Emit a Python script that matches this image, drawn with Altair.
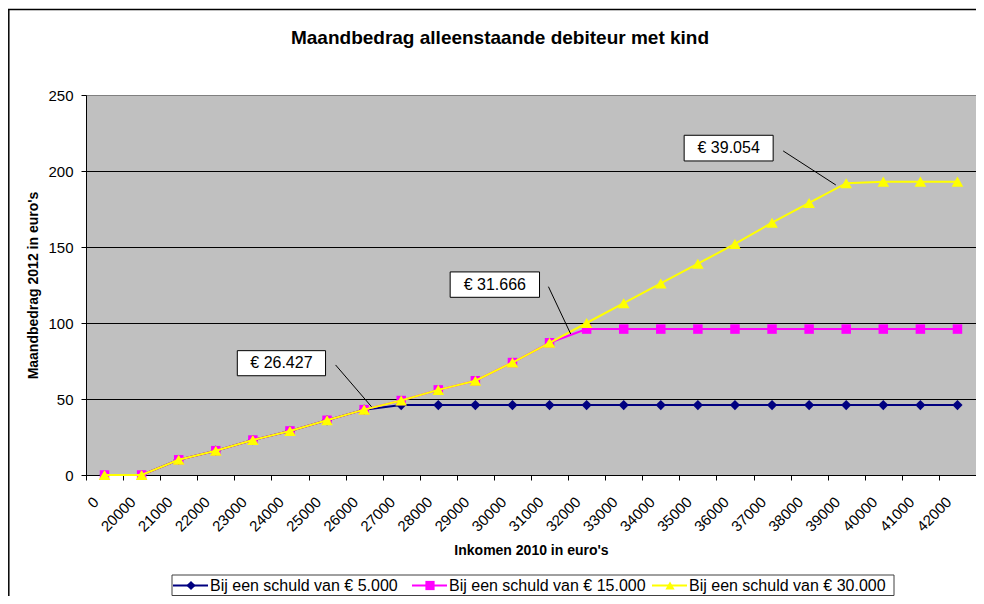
import json
import altair as alt
import pandas as pd

# ---------------- data ----------------
chart_title = "Maandbedrag alleenstaande debiteur met kind"
income_labels = ["0", "20000", "21000", "22000", "23000", "24000", "25000", "26000",
                 "27000", "28000", "29000", "30000", "31000", "32000", "33000", "34000",
                 "35000", "36000", "37000", "38000", "39000", "40000", "41000", "42000"]

series_names = ["Bij een schuld van € 5.000",
                "Bij een schuld van € 15.000",
                "Bij een schuld van € 30.000"]
series_colors = ["#000080", "#FF00FF", "#FFFF00"]
series_shapes = ["diamond", "square", "triangle-up"]
series_sizes = [105, 90, 135]

schuld_5000 = [0, 0, 10, 16, 23, 29, 36, 43, 46, 46, 46, 46, 46, 46, 46, 46,
               46, 46, 46, 46, 46, 46, 46, 46]
schuld_15000 = [0, 0, 10, 16, 23, 29, 36, 43, 49, 56, 62, 74, 87, 96, 96, 96,
                96, 96, 96, 96, 96, 96, 96, 96]
schuld_30000 = [0, 0, 10, 16, 23, 29, 36, 43, 49, 56, 62, 74, 87, 100, 113, 126,
                139, 152, 166, 179, 192, 193, 193, 193]

# annotations (positions in category-index / euro units)
ann_text = ["€ 26.427", "€ 31.666", "€ 39.054"]
ann_box_x1 = [3.58, 9.32, 15.63]
ann_box_x2 = [5.96, 11.73, 18.03]
ann_box_y1 = [65.3, 116.9, 206.6]
ann_box_y2 = [81.8, 133.6, 223.5]
ann_line_x1 = [6.23, 11.97, 18.30]
ann_line_y1 = [72.4, 123.9, 213.2]
ann_line_x2 = [7.20, 12.57, 19.72]
ann_line_y2 = [44.9, 92.8, 190.8]

# ---------------- layout ----------------
W, H = 890, 380
FONT = "Liberation Sans"
N = len(income_labels)
band = W / N
Y_MAX = 250
px_per_unit = H / Y_MAX


def px_to_x(px):  # pixel offset from plot left -> category index units
    return px / band - 0.5


def px_to_y(py):  # pixel offset from plot top -> euro units
    return (H - py) / px_per_unit


# legend layout (pixels relative to the plot area)
legend_entry_px = [87, 326, 566]
legend_box_px = (86, 808, 480, 500.5)
legend_text_py = 490.5

# ---------------- tables ----------------
rows = []
for name, vals in zip(series_names, [schuld_5000, schuld_15000, schuld_30000]):
    for i, v in enumerate(vals):
        rows.append({"idx": i, "bedrag": v, "series": name})
df = pd.DataFrame(rows)

ann_df = pd.DataFrame({
    "text": ann_text,
    "bx1": ann_box_x1, "bx2": ann_box_x2, "by1": ann_box_y1, "by2": ann_box_y2,
    "tx": [(a + b) / 2 for a, b in zip(ann_box_x1, ann_box_x2)],
    "ty": [(a + b) / 2 for a, b in zip(ann_box_y1, ann_box_y2)],
    "lx1": ann_line_x1, "ly1": ann_line_y1, "lx2": ann_line_x2, "ly2": ann_line_y2,
})

leg_df = pd.DataFrame({
    "series": series_names,
    "shape": series_shapes,
    "lx1": [px_to_x(p) for p in legend_entry_px],
    "lx2": [px_to_x(p + 35) for p in legend_entry_px],
    "mx": [px_to_x(p + 18) for p in legend_entry_px],
    "tx": [px_to_x(p + 37) for p in legend_entry_px],
    "ly": [px_to_y(legend_text_py)] * 3,
})
leg_box_df = pd.DataFrame({
    "x1": [px_to_x(legend_box_px[0])], "x2": [px_to_x(legend_box_px[1])],
    "y1": [px_to_y(legend_box_px[2])], "y2": [px_to_y(legend_box_px[3])],
})

x_scale = alt.Scale(domain=[-0.5, N - 0.5], nice=False, zero=False)
y_scale = alt.Scale(domain=[0, Y_MAX], nice=False, zero=True)
color_scale = alt.Scale(domain=series_names, range=series_colors)

label_expr = "(" + json.dumps(income_labels) + ")[datum.value] || ''"

x_axis = alt.Axis(
    values=list(range(N)), labelExpr=label_expr,
    title="Inkomen 2010 in euro's", titleFont=FONT, titleFontSize=14, titleFontWeight="bold",
    titleColor="black", titleBaseline="middle", titleY=75,
    labelFont=FONT, labelFontSize=15, labelColor="black", labelAngle=-45,
    labelAlign="right", labelBaseline="middle", labelPadding=19,
    labelOffset=band / 2 - 9, tickOffset=-band / 2,
    labelOverlap=False, labelFlush=False, labelBound=False, labelSeparation=0,
    ticks=True, tickSize=5, tickColor="black", domainColor="black", grid=False,
)
y_axis = alt.Axis(
    values=[0, 50, 100, 150, 200, 250], title="Maandbedrag 2012 in euro's",
    titleFont=FONT, titleFontSize=14, titleFontWeight="bold", titleColor="black",
    titleX=-53, titleY=H / 2, titleBaseline="middle", titleAlign="center",
    labelFont=FONT, labelFontSize=15, labelColor="black", labelPadding=8,
    ticks=True, tickSize=5, tickColor="black", domainColor="black",
    grid=True, gridColor={"condition": {"test": "datum.value === 250", "value": "#808080"},
                          "value": "#000000"},
    gridWidth=1,
)


def X(field):
    return alt.X(field, type="quantitative", scale=x_scale, axis=x_axis)


def Y(field):
    return alt.Y(field, type="quantitative", scale=y_scale, axis=y_axis)


C = alt.Color("series:N", scale=color_scale, legend=None)

# outer chart border (left and top edges; the others lie outside the picture)
frame_df = pd.DataFrame({"a": [0]})
border_left = alt.Chart(frame_df).mark_rule(color="black", strokeWidth=1.5).encode(
    x=alt.value(-77.2), y=alt.value(-85.5), y2=alt.value(H + 130))
border_top = alt.Chart(frame_df).mark_rule(color="black", strokeWidth=1.5).encode(
    x=alt.value(-78), x2=alt.value(W + 10), y=alt.value(-85.5))

title_layer = alt.Chart(pd.DataFrame({"t": [chart_title]})).mark_text(
    font=FONT, fontSize=19, fontWeight="bold", color="black", align="center",
    baseline="alphabetic"
).encode(text="t:N", x=alt.value(414), y=alt.value(-51))

layers = [border_left, border_top, title_layer]
for name, shape, size in zip(series_names, series_shapes, series_sizes):
    base = alt.Chart(df).transform_filter(alt.datum.series == name)
    layers.append(base.mark_line(strokeWidth=2).encode(x=X("idx"), y=Y("bedrag"), color=C))
    layers.append(base.mark_point(shape=shape, filled=True, size=size, opacity=1).encode(
        x=X("idx"), y=Y("bedrag"), color=C))

ann_base = alt.Chart(ann_df)
layers.append(ann_base.mark_rule(color="black", strokeWidth=1).encode(
    x=X("lx1"), y=Y("ly1"), x2="lx2:Q", y2="ly2:Q"))
layers.append(ann_base.mark_rect(fill="white", stroke="black", strokeWidth=1).encode(
    x=X("bx1"), x2="bx2:Q", y=Y("by1"), y2="by2:Q"))
layers.append(ann_base.mark_text(font=FONT, fontSize=16, color="black", align="center",
                                 baseline="middle").encode(x=X("tx"), y=Y("ty"), text="text:N"))

# legend (drawn below the plot through the same scales)
layers.append(alt.Chart(leg_box_df).mark_rect(fill="white", stroke="#404040", strokeWidth=1).encode(
    x=X("x1"), x2="x2:Q", y=Y("y1"), y2="y2:Q"))
leg_base = alt.Chart(leg_df)
layers.append(leg_base.mark_rule(strokeWidth=2).encode(x=X("lx1"), x2="lx2:Q", y=Y("ly"), color=C))
layers.append(leg_base.mark_point(filled=True, size=85, opacity=1).encode(
    x=X("mx"), y=Y("ly"), color=C, shape=alt.Shape("shape:N", scale=None)))
layers.append(leg_base.mark_text(font=FONT, fontSize=16, color="black", align="left",
                                 baseline="middle").encode(x=X("tx"), y=Y("ly"), text="series:N"))

chart = alt.layer(*layers).properties(
    width=W, height=H,
    background="white",
    autosize=alt.AutoSizeParams(type="none"),
    padding={"left": 78, "top": 87, "right": 0, "bottom": 121},
).configure_view(
    fill="#C0C0C0", stroke="#808080", strokeWidth=1
)

chart.save("out.html", embed_options={"renderer": "svg", "actions": False})
